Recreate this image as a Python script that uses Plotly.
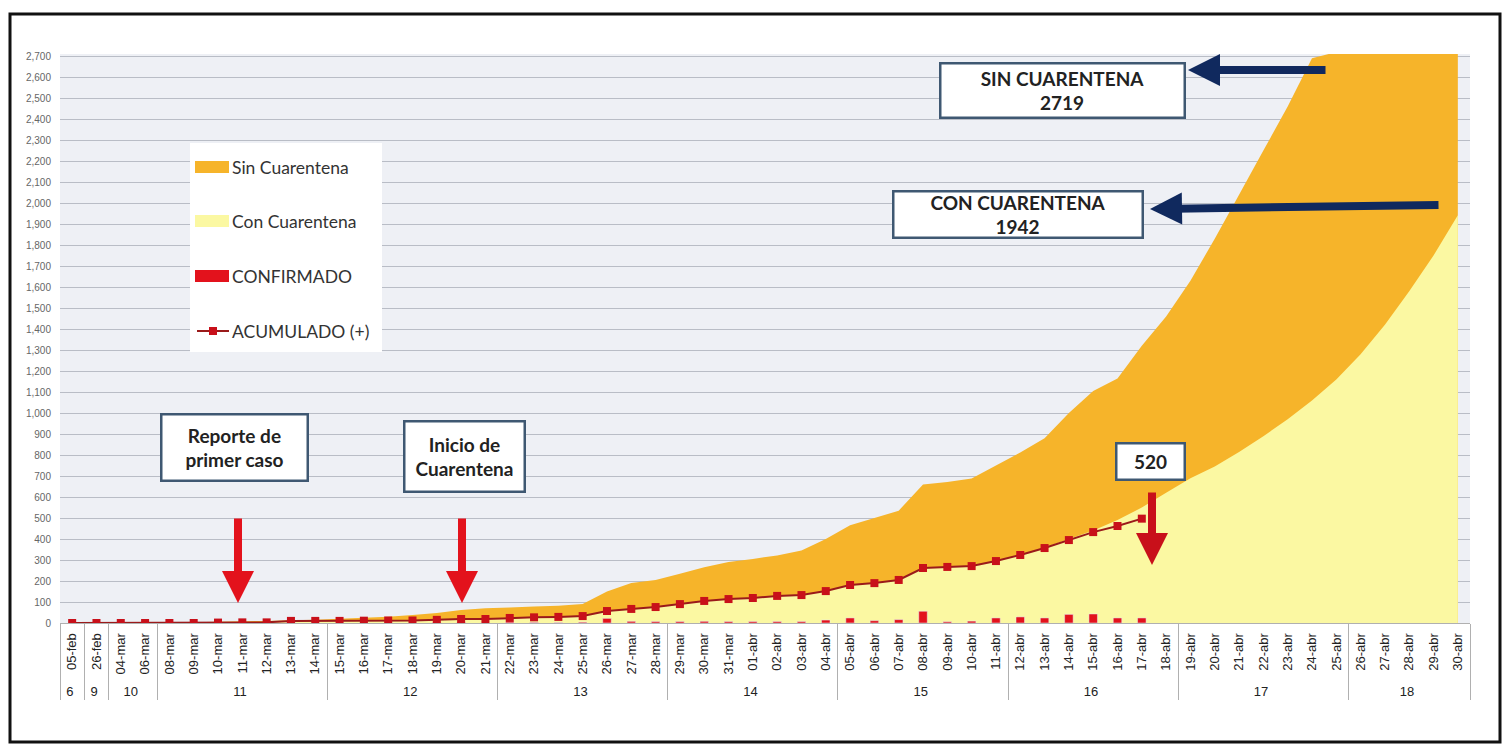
import plotly.graph_objects as go

weeks = ["6", "9", "10", "10",
         "11", "11", "11", "11", "11", "11", "11",
         "12", "12", "12", "12", "12", "12", "12",
         "13", "13", "13", "13", "13", "13", "13",
         "14", "14", "14", "14", "14", "14", "14",
         "15", "15", "15", "15", "15", "15", "15",
         "16", "16", "16", "16", "16", "16", "16",
         "17", "17", "17", "17", "17", "17", "17",
         "18", "18", "18", "18", "18"]
dates = ["05-feb", "26-feb", "04-mar", "06-mar", "08-mar", "09-mar", "10-mar", "11-mar",
         "12-mar", "13-mar", "14-mar", "15-mar", "16-mar", "17-mar", "18-mar", "19-mar",
         "20-mar", "21-mar", "22-mar", "23-mar", "24-mar", "25-mar", "26-mar", "27-mar",
         "28-mar", "29-mar", "30-mar", "31-mar", "01-abr", "02-abr", "03-abr", "04-abr",
         "05-abr", "06-abr", "07-abr", "08-abr", "09-abr", "10-abr", "11-abr", "12-abr",
         "13-abr", "14-abr", "15-abr", "16-abr", "17-abr", "18-abr", "19-abr", "20-abr",
         "21-abr", "22-abr", "23-abr", "24-abr", "25-abr", "26-abr", "27-abr", "28-abr",
         "29-abr", "30-abr"]

sin_cuarentena = [0, 0, 1, 2, 3, 4, 6, 8, 10, 13, 16, 20, 25, 30, 38, 48, 62, 70, 74, 78,
                  82, 90, 150, 190, 205, 235, 265, 290, 305, 322, 345, 400, 465, 500, 535,
                  660, 672, 688, 750, 812, 880, 1000, 1105, 1165, 1320, 1460, 1630, 1830,
                  2040, 2250, 2460, 2690, 2719, 2719, 2719, 2719, 2719, 2719]
con_cuarentena = [0, 0, 0, 0, 0, 0, 2, 3, 3, 10, 10, 10, 11, 12, 12, 15, 19, 19, 24, 27,
                  29, 33, 57, 67, 76, 90, 105, 114, 119, 129, 133, 152, 181, 190, 205,
                  262, 267, 271, 295, 325, 360, 400, 440, 490, 550, 620, 690, 745, 815,
                  890, 970, 1060, 1160, 1280, 1420, 1580, 1750, 1942]
confirmado = [0, 0, 0, 0, 0, 0, 2, 1, 0, 7, 0, 0, 1, 1, 0, 3, 4, 0, 5, 3, 2, 4, 22, 8, 7,
              7, 8, 7, 7, 7, 7, 14, 24, 11, 16, 56, 6, 9, 24, 29, 24, 41, 43, 24, 24]
acumulado = [0, 0, 0, 0, 0, 0, 2, 3, 3, 10, 10, 10, 11, 12, 12, 15, 19, 19, 24, 27, 29,
             33, 57, 67, 76, 90, 105, 114, 119, 129, 133, 152, 181, 190, 205, 262, 267,
             271, 295, 324, 357, 395, 433, 462, 497]

y_ticks = list(range(0, 2701, 100))

legend_names = ["Sin Cuarentena", "Con Cuarentena", "CONFIRMADO", "ACUMULADO (+)"]

n_obs = len(acumulado)
x_all = [weeks, dates]
x_obs = [weeks[:n_obs], dates[:n_obs]]

ORANGE = "#f6b42a"
YELLOW = "#fbf8a2"
RED = "#e3121c"
DARKRED = "#9a1a1a"
MARKRED = "#c8101a"
NAVY = "#10295e"
BOXBORDER = "#3f5872"

# plot area in page pixels (body margin of 8px included)
PL, PR, PT, PB = 60, 1470, 54, 623


def px(x):
    return (x - PL) / (PR - PL)


def py(y):
    return (PB - y) / (PB - PT)


fig = go.Figure()
fig.add_trace(go.Scatter(x=x_all, y=sin_cuarentena, name=legend_names[0], mode="none",
                         fill="tozeroy", fillcolor=ORANGE, xaxis="x", yaxis="y"))
fig.add_trace(go.Scatter(x=x_all, y=con_cuarentena, name=legend_names[1], mode="none",
                         fill="tozeroy", fillcolor=YELLOW, xaxis="x", yaxis="y"))
fig.add_trace(go.Bar(x=x_obs, y=confirmado, name=legend_names[2], marker_color=RED,
                     width=0.35, xaxis="x2", yaxis="y2"))
fig.add_trace(go.Scatter(x=x_obs, y=acumulado, name=legend_names[3], mode="lines+markers",
                         line=dict(color=DARKRED, width=2),
                         marker=dict(symbol="square", size=8, color=MARKRED),
                         xaxis="x2", yaxis="y2"))

yr = [0, 2710]
xr = [-0.5, len(dates) - 0.5]

fig.update_layout(
    width=1504, height=737,
    margin=dict(l=PL - 8, r=1512 - PR, t=PT - 8, b=737 + 8 - PB),
    paper_bgcolor="white",
    plot_bgcolor="#eef0f5",
    font=dict(family="Lato, Liberation Sans, sans-serif", color="#333"),
    showlegend=False,
    xaxis=dict(type="multicategory", range=xr, showgrid=False, tickangle=-90,
               tickfont=dict(size=13, color="#222",
                             family="Liberation Sans Narrow, Liberation Sans"),
               showdividers=True, ticklabelstandoff=4,
               dividercolor="#b0b0b0", dividerwidth=1, linecolor="#b0b0b0",
               showline=True, zeroline=False),
    yaxis=dict(range=yr, tickvals=y_ticks, tickformat=",", gridcolor="#b9bdc6",
               gridwidth=1, ticklabelstandoff=8,
               tickfont=dict(size=10, color="#666",
                             family="Liberation Sans Narrow, Liberation Sans"),
               zeroline=False, showline=False, ticks=""),
    xaxis2=dict(type="multicategory", overlaying="x", range=xr, visible=False),
    yaxis2=dict(overlaying="y", range=yr, visible=False),
)

shapes = []
# outer frame
shapes.append(dict(type="rect", xref="paper", yref="paper", x0=px(10), x1=px(1500),
                   y0=py(742), y1=py(14), line=dict(color="#111", width=3), layer="above"))
# manual legend
shapes.append(dict(type="rect", xref="paper", yref="paper", x0=px(190), x1=px(382),
                   y0=py(352), y1=py(143), fillcolor="white", line=dict(width=0),
                   layer="above"))
leg_y = [167, 221, 276, 331]
for yc, col in zip(leg_y[:3], [ORANGE, YELLOW, RED]):
    shapes.append(dict(type="rect", xref="paper", yref="paper", x0=px(195), x1=px(229),
                       y0=py(yc + 6), y1=py(yc - 6), fillcolor=col, line=dict(width=0),
                       layer="above"))
shapes.append(dict(type="line", xref="paper", yref="paper", x0=px(197), x1=px(229),
                   y0=py(leg_y[3]), y1=py(leg_y[3]), line=dict(color=DARKRED, width=2),
                   layer="above"))
shapes.append(dict(type="rect", xref="paper", yref="paper", x0=px(209), x1=px(217),
                   y0=py(leg_y[3] + 4), y1=py(leg_y[3] - 4), fillcolor=MARKRED,
                   line=dict(width=0), layer="above"))
fig.update_layout(shapes=shapes)

for name, yc in zip(legend_names, leg_y):
    fig.add_annotation(text=name, xref="paper", yref="paper", x=px(230), y=py(yc),
                       xanchor="left", yanchor="middle", showarrow=False,
                       font=dict(size=17.5, color="#333", family="Lato, Open Sans, sans-serif"))

box_font = dict(family="Lato, Open Sans, sans-serif", size=19, color="#222")
boxes = [
    ("<b>SIN CUARENTENA</b><br><b>2719</b>", 1062, 90, 240, 50),
    ("<b>CON CUARENTENA</b><br><b>1942</b>", 1018, 215, 245, 42),
    ("<b>520</b>", 1150, 461, 64, 32),
    ("<b>Reporte de</b><br><b>primer caso</b>", 234, 447, 142, 62),
    ("<b>Inicio de</b><br><b>Cuarentena</b>", 464, 456, 116, 66),
]
for txt, bx, by, w, h in boxes:
    fig.add_annotation(text=txt, xref="paper", yref="paper", x=px(bx), y=py(by),
                       xanchor="center", yanchor="middle", showarrow=False,
                       width=w, height=h, bgcolor="white", bordercolor=BOXBORDER,
                       borderwidth=2.5, font=box_font)

# arrows: tip (x, y) in page pixels, tail offset in pixels
arrows = [
    (238, 603, 0, -86, RED),
    (462, 603, 0, -86, RED),
    (1152, 565, 0, -74, MARKRED),
    (1188, 70, 139, 0, NAVY),
    (1150, 209, 290, -4, NAVY),
]
for tx, ty, dx, dy, col in arrows:
    fig.add_annotation(text="", xref="paper", yref="paper", x=px(tx), y=py(ty),
                       ax=dx, ay=dy, showarrow=True, arrowhead=2, arrowsize=0.8,
                       arrowwidth=8, arrowcolor=col, standoff=0, startstandoff=0)

fig.write_html("out.html")
